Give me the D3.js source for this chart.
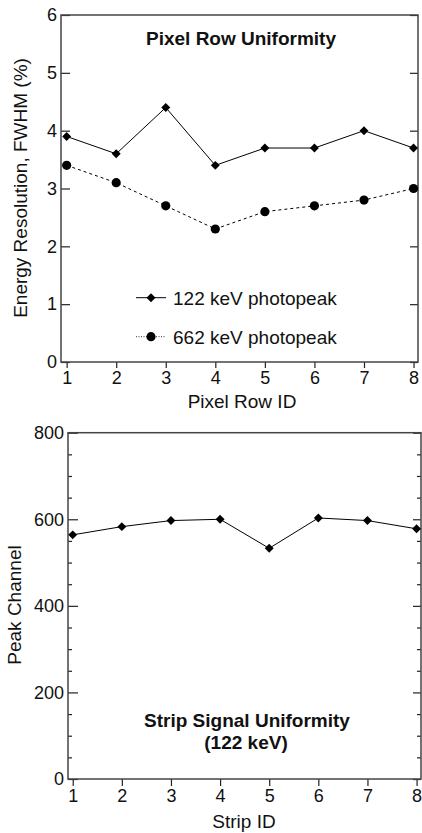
<!DOCTYPE html>
<html>
<head>
  <meta charset="utf-8">
  <style>
    body { margin: 0; background: #fff; font-family: 'Liberation Sans', Arial, sans-serif; }
    .tick text { font-family: 'Liberation Sans', Arial, sans-serif; font-size: 18px; fill: #111; }
    .axis path { display: none; }
    .tick line { stroke: #222; stroke-width: 1.2; }
    .frame { fill: none; stroke: #444; stroke-width: 1.5; }
    .lbl { font-size: 19px; fill: #111; }
    .title { font-size: 19px; font-weight: bold; fill: #111; }
  </style>
</head>
<body>
  <div id="chart"></div>
  <script src="https://d3js.org/d3.v7.min.js"></script>
  <script>
    // values
    var rowIds = [1, 2, 3, 4, 5, 6, 7, 8];
    var res122 = [3.9, 3.6, 4.4, 3.4, 3.7, 3.7, 4.0, 3.7];
    var res662 = [3.4, 3.1, 2.7, 2.3, 2.6, 2.7, 2.8, 3.0];
    var stripIds = [1, 2, 3, 4, 5, 6, 7, 8];
    var peakChannel = [564, 583, 597, 600, 533, 603, 597, 578];
    var resTicks = [0, 1, 2, 3, 4, 5, 6];
    var chanTicks = [0, 200, 400, 600, 800];
    var legendNames = ['122 keV photopeak', '662 keV photopeak'];

    var W = 422, H = 833;
    var svg = d3.select('#chart').append('svg')
      .attr('width', W)
      .attr('height', H);

    var diamond = d3.symbol().type(d3.symbolSquare).size(40);

    // ---------- upper panel: pixel row uniformity ----------
    var p1 = { l: 61, r: 418, t: 15, b: 362 };
    var x1 = d3.scaleLinear().domain([0.886, 8.09]).range([p1.l, p1.r]);
    var y1 = d3.scaleLinear().domain([0, 6]).range([p1.b, p1.t]);

    var g1 = svg.append('g');

    g1.append('g').attr('class', 'axis')
      .attr('transform', 'translate(0,' + p1.b + ')')
      .call(d3.axisBottom(x1).tickValues(rowIds).tickSize(6).tickPadding(3).tickFormat(d3.format('d')));
    g1.append('g').attr('class', 'axis')
      .attr('transform', 'translate(' + p1.l + ',0)')
      .call(d3.axisLeft(y1).tickValues(resTicks).tickSize(-9).tickPadding(4).tickFormat(d3.format('d')));
    g1.append('g').attr('class', 'axis')
      .attr('transform', 'translate(' + p1.r + ',0)')
      .call(d3.axisRight(y1).tickValues(resTicks).tickSize(-8).tickFormat(''));

    g1.append('rect').attr('class', 'frame')
      .attr('x', p1.l).attr('y', p1.t)
      .attr('width', p1.r - p1.l).attr('height', p1.b - p1.t);

    var line1 = d3.line()
      .x(function(d, i) { return x1(rowIds[i]); })
      .y(function(d) { return y1(d); });

    g1.append('path').datum(res122)
      .attr('d', line1).attr('fill', 'none').attr('stroke', '#000').attr('stroke-width', 1);
    g1.append('path').datum(res662)
      .attr('d', line1).attr('fill', 'none').attr('stroke', '#000').attr('stroke-width', 1)
      .attr('stroke-dasharray', '3,3');

    g1.selectAll('.dia').data(res122).enter().append('path')
      .attr('d', diamond)
      .attr('transform', function(d, i) { return 'translate(' + x1(rowIds[i]) + ',' + y1(d) + ') rotate(45)'; })
      .attr('fill', '#000');
    g1.selectAll('.dot').data(res662).enter().append('circle')
      .attr('cx', function(d, i) { return x1(rowIds[i]); })
      .attr('cy', function(d) { return y1(d); })
      .attr('r', 4.6)
      .attr('fill', '#000');

    g1.append('text').attr('class', 'title')
      .attr('x', 241).attr('y', 44.5).attr('text-anchor', 'middle')
      .text('Pixel Row Uniformity');
    g1.append('text').attr('class', 'lbl')
      .attr('x', 242).attr('y', 408).attr('text-anchor', 'middle')
      .text('Pixel Row ID');
    g1.append('text').attr('class', 'lbl')
      .attr('transform', 'translate(26.5,188) rotate(-90)').attr('text-anchor', 'middle')
      .text('Energy Resolution, FWHM (%)');

    // legend
    var leg = g1.selectAll('.leg').data(legendNames).enter().append('g')
      .attr('transform', function(d, i) { return 'translate(136,' + (297.7 + i * 39) + ')'; });
    leg.append('line')
      .attr('x1', 0).attr('x2', 30).attr('y1', 0).attr('y2', 0)
      .attr('stroke', '#000')
      .attr('stroke-width', function(d, i) { return i ? 0.8 : 1; })
      .attr('stroke-dasharray', function(d, i) { return i ? '1,1.5' : null; });
    leg.filter(function(d, i) { return i === 0; }).append('path')
      .attr('d', diamond).attr('transform', 'translate(15,0) rotate(45)').attr('fill', '#000');
    leg.filter(function(d, i) { return i === 1; }).append('circle')
      .attr('cx', 15).attr('cy', 0).attr('r', 4.6).attr('fill', '#000');
    leg.append('text').attr('class', 'lbl')
      .attr('x', 37).attr('y', 6.8)
      .text(function(d) { return d; });

    // ---------- lower panel: strip signal uniformity ----------
    var p2 = { l: 68, r: 421, t: 432.7, b: 779 };
    var x2 = d3.scaleLinear().domain([0.904, 8.09]).range([p2.l, p2.r]);
    var y2 = d3.scaleLinear().domain([0, 800]).range([p2.b, p2.t]);
    var minor = d3.range(0, 801, 50).filter(function(v) { return v % 200 !== 0; });

    var g2 = svg.append('g');

    g2.append('g').attr('class', 'axis')
      .attr('transform', 'translate(0,' + p2.b + ')')
      .call(d3.axisBottom(x2).tickValues(stripIds).tickSize(7).tickPadding(3).tickFormat(d3.format('d')));
    g2.append('g').attr('class', 'axis')
      .attr('transform', 'translate(' + p2.l + ',0)')
      .call(d3.axisLeft(y2).tickValues(chanTicks).tickSize(-10).tickPadding(4).tickFormat(d3.format('d')));
    g2.append('g').attr('class', 'axis')
      .attr('transform', 'translate(' + p2.l + ',0)')
      .call(d3.axisLeft(y2).tickValues(minor).tickSize(-4).tickFormat(''));
    g2.append('g').attr('class', 'axis')
      .attr('transform', 'translate(' + p2.r + ',0)')
      .call(d3.axisRight(y2).tickValues(chanTicks).tickSize(-8).tickFormat(''));
    g2.append('g').attr('class', 'axis')
      .attr('transform', 'translate(' + p2.r + ',0)')
      .call(d3.axisRight(y2).tickValues(minor).tickSize(-4).tickFormat(''));

    g2.append('rect').attr('class', 'frame')
      .attr('x', p2.l).attr('y', p2.t)
      .attr('width', p2.r - p2.l).attr('height', p2.b - p2.t);

    var line2 = d3.line()
      .x(function(d, i) { return x2(stripIds[i]); })
      .y(function(d) { return y2(d); });

    g2.append('path').datum(peakChannel)
      .attr('d', line2).attr('fill', 'none').attr('stroke', '#000').attr('stroke-width', 1);
    g2.selectAll('.dia').data(peakChannel).enter().append('path')
      .attr('d', diamond)
      .attr('transform', function(d, i) { return 'translate(' + x2(stripIds[i]) + ',' + y2(d) + ') rotate(45)'; })
      .attr('fill', '#000');

    g2.append('text').attr('class', 'title')
      .attr('x', 247).attr('y', 726.5).attr('text-anchor', 'middle')
      .text('Strip Signal Uniformity');
    g2.append('text').attr('class', 'title')
      .attr('x', 246).attr('y', 749).attr('text-anchor', 'middle')
      .text('(122 keV)');
    g2.append('text').attr('class', 'lbl')
      .attr('x', 244).attr('y', 828).attr('text-anchor', 'middle')
      .text('Strip ID');
    g2.append('text').attr('class', 'lbl')
      .attr('transform', 'translate(20.5,605) rotate(-90)').attr('text-anchor', 'middle')
      .text('Peak Channel');
  </script>
</body>
</html>
